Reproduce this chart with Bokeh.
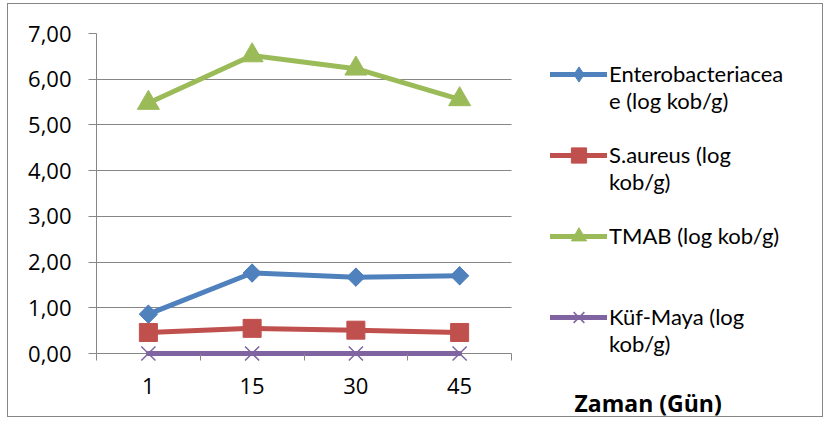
from bokeh.plotting import figure
from bokeh.models import FixedTicker, Legend, LegendItem, Label
from bokeh.embed import file_html
from bokeh.resources import INLINE

# Sampling days (x categories)
days = ["1", "15", "30", "45"]

# Microbial counts, log kob/g
enterobacteriaceae = [0.86, 1.76, 1.67, 1.70]
s_aureus = [0.46, 0.55, 0.51, 0.46]
tmab = [5.48, 6.52, 6.23, 5.56]
kuf_maya = [0.00, 0.00, 0.00, 0.00]

# Value axis ticks and their Turkish-format labels
y_ticks = [0, 1, 2, 3, 4, 5, 6, 7]
y_labels = ["0,00", "1,00", "2,00", "3,00", "4,00", "5,00", "6,00", "7,00"]

series_names = [
    "Enterobacteriacea\ne (log kob/g)",
    "S.aureus (log\nkob/g)",
    "TMAB (log kob/g)",
    "Küf-Maya (log\nkob/g)",
]
x_title = "Zaman (Gün)"
colors = ["#4F81BD", "#C0504D", "#9BBB59", "#8064A2"]

FONT = "Open Sans"
LEGEND_FONT = "Lato"
GRAY = "#868686"

# canvas geometry (pixels); the plot area is 415 x 320 px, its left edge 88 px in
CANVAS_W, CANVAS_H = 816, 414
LEFT, TOP = 88, 29
PLOT_W, PLOT_H = 415, 320
PX_PER_X = PLOT_W / len(days)
PX_PER_Y = PLOT_H / 7
frame_w = CANVAS_W - LEFT
frame_h = CANVAS_H - TOP
below_zero = frame_h - PLOT_H  # frame continues under the axis for the title

xs = [i + 0.5 for i in range(len(days))]

p = figure(
    width=CANVAS_W, height=CANVAS_H,
    x_range=(0, frame_w / PX_PER_X),
    y_range=(-below_zero / PX_PER_Y, 7),
    output_backend="svg", toolbar_location=None,
    min_border_left=LEFT, min_border_right=0,
    min_border_top=TOP, min_border_bottom=0,
    margin=(3, 0, 0, 7),
    styles={"border": "1px solid #868686", "background-color": "white"},
)
p.outline_line_color = None
p.background_fill_color = "white"
p.border_fill_color = "white"

# value axis
p.yaxis.ticker = FixedTicker(ticks=y_ticks)
p.yaxis.bounds = (0, 7)
p.yaxis.major_label_overrides = {t: lab for t, lab in zip(y_ticks, y_labels)}
p.yaxis.axis_line_color = GRAY
p.yaxis.major_tick_line_color = GRAY
p.yaxis.major_tick_out = 8
p.yaxis.major_tick_in = 0
p.yaxis.minor_tick_line_color = None
p.yaxis.major_label_standoff = 17
p.yaxis.major_label_text_font = FONT
p.yaxis.major_label_text_font_size = "22px"
p.yaxis.major_label_text_color = "black"

# category axis: the zero grid line is its base line; tick marks sit between
# categories and hang 7px below zero, labels sit under them
p.xaxis.ticker = FixedTicker(ticks=xs, minor_ticks=list(range(len(days) + 1)))
p.xaxis.bounds = (0, len(days))
p.xaxis.major_label_overrides = {x: d for x, d in zip(xs, days)}
p.xaxis.axis_line_color = None
p.xaxis.major_tick_line_color = None
p.xaxis.major_tick_out = 0
p.xaxis.major_tick_in = 0
p.xaxis.minor_tick_line_color = GRAY
p.xaxis.minor_tick_in = below_zero
p.xaxis.minor_tick_out = 7 - below_zero
p.xaxis.major_label_standoff = 24 - below_zero
p.xaxis.major_label_text_font = FONT
p.xaxis.major_label_text_font_size = "22px"
p.xaxis.major_label_text_color = "black"

p.xgrid.visible = False
p.ygrid.grid_line_color = GRAY
p.ygrid.grid_line_width = 1
p.ygrid.cross_bounds = (0, len(days))

line_kw = dict(line_width=5, line_join="round", line_cap="round")

r_e_line = p.line(xs, enterobacteriaceae, line_color=colors[0], **line_kw)
r_e_mark = p.scatter(xs, enterobacteriaceae, marker="diamond", size=18,
                     fill_color=colors[0], line_color=colors[0])
p.scatter(xs, enterobacteriaceae, marker="square", size=13, angle=0.785398,
          fill_color=colors[0], line_color=colors[0])
r_s_line = p.line(xs, s_aureus, line_color=colors[1], **line_kw)
r_s_mark = p.scatter(xs, s_aureus, marker="square", size=18,
                     fill_color=colors[1], line_color=colors[1])
r_t_line = p.line(xs, tmab, line_color=colors[2], **line_kw)
r_t_mark = p.scatter(xs, tmab, marker="triangle", size=22,
                     fill_color=colors[2], line_color=colors[2])
r_k_line = p.line(xs, kuf_maya, line_color=colors[3], **line_kw)
r_k_mark = p.scatter(xs, kuf_maya, marker="x", size=20,
                     line_color=colors[3], line_width=1.5)

renderer_pairs = [(r_e_line, r_e_mark), (r_s_line, r_s_mark),
                  (r_t_line, r_t_mark), (r_k_line, r_k_mark)]

items = []
for name, rs in zip(series_names, renderer_pairs):
    # a leading blank line keeps the swatch level with the first text line
    lines = name.split("\n")
    label = "\n".join([""] + lines + [" "] * (2 - len(lines)))
    items.append(LegendItem(label=label, renderers=list(rs)))

legend = Legend(
    items=items, location=(454, 61),
    glyph_width=57, glyph_height=38,
    label_standoff=2, spacing=0, padding=0, margin=0,
    border_line_color=None, background_fill_alpha=0,
    label_text_font=LEGEND_FONT, label_text_font_size="22px",
    label_text_color="black",
)
p.add_layout(legend)

# category axis title at the lower right
p.add_layout(Label(
    x=565, y=397, x_units="canvas", y_units="canvas",
    text=x_title, text_font=FONT, text_font_size="23px",
    text_font_style="bold", text_color="black", text_baseline="alphabetic",
))

open("out.html", "w").write(file_html(p, INLINE))
